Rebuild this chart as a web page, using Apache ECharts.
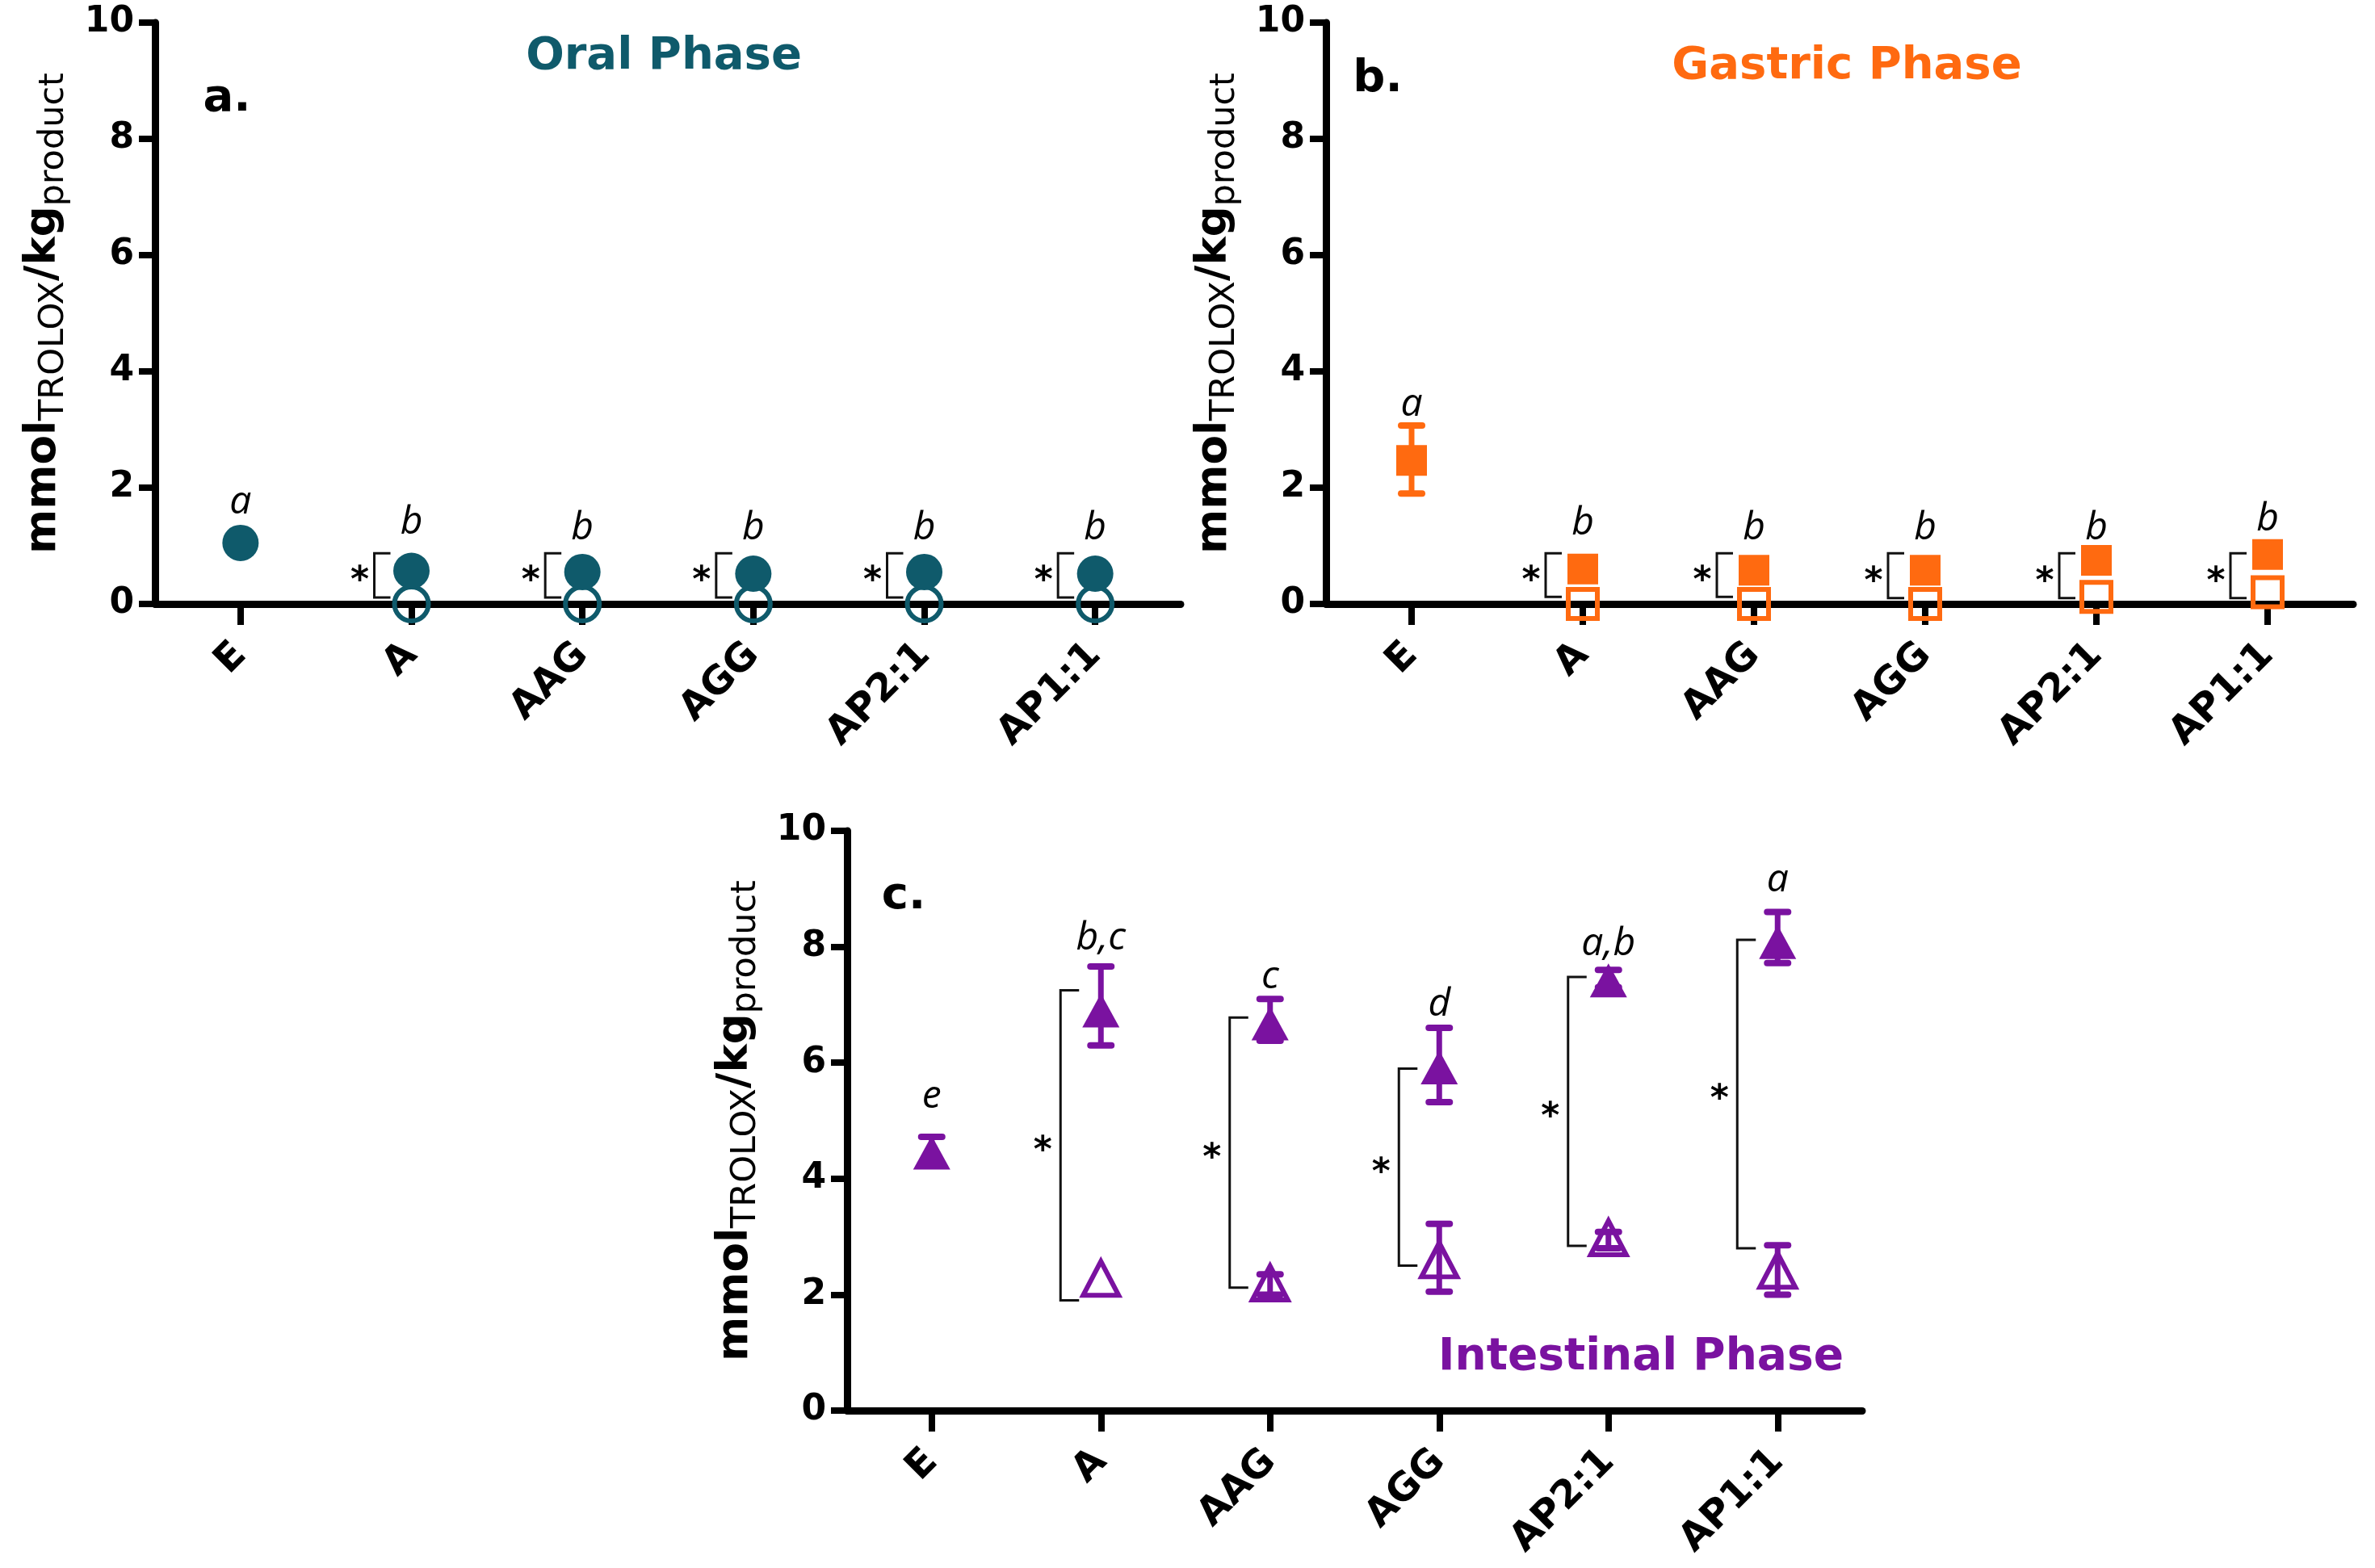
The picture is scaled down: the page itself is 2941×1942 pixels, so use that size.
<!DOCTYPE html>
<html>
<head>
<meta charset="utf-8">
<script src="https://cdn.jsdelivr.net/npm/echarts@6/dist/echarts.min.js"></script>
<style>
html,body{margin:0;padding:0;background:#fff;}
#c{width:2941px;height:1942px;}
</style>
</head>
<body>
<div id="c"></div>
<script>
// ---------- data ----------
const categories = ['E', 'A', 'AAG', 'AGG', 'AP2:1', 'AP1:1'];
const yMin = 0, yMax = 10, yStep = 2;

// Oral phase
const oralFilled = [1.05, 0.57, 0.55, 0.52, 0.55, 0.52];
const oralOpen = ['-', 0.0, 0.0, 0.0, 0.0, 0.0];
const oralLetters = ['a', 'b', 'b', 'b', 'b', 'b'];
const oralLetterY = [1.74, 1.40, 1.30, 1.30, 1.30, 1.30];
const oralBrackets = [[1, 0.87, 0.11], [2, 0.87, 0.11], [3, 0.87, 0.11], [4, 0.87, 0.11], [5, 0.87, 0.11]];

// Gastric phase
const gastricFilled = [2.47, 0.60, 0.58, 0.58, 0.75, 0.85];
const gastricOpen = ['-', 0.0, 0.0, 0.0, 0.12, 0.20];
const gastricFilledErr = [[0, 1.90, 3.07]];
const gastricLetters = ['a', 'b', 'b', 'b', 'b', 'b'];
const gastricLetterY = [3.42, 1.39, 1.30, 1.30, 1.30, 1.45];
const gastricBrackets = [[1, 0.87, 0.12], [2, 0.87, 0.12], [3, 0.87, 0.10], [4, 0.87, 0.10], [5, 0.87, 0.10]];

// Intestinal phase
const intFilled = [4.45, 6.90, 6.68, 5.92, 7.42, 8.08];
const intOpen = ['-', 2.28, 2.20, 2.60, 2.98, 2.42];
const intFilledErr = [[0, 4.25, 4.72], [1, 6.30, 7.66], [2, 6.38, 7.10], [3, 5.32, 6.60], [4, 7.30, 7.60], [5, 7.72, 8.60]];
const intOpenErr = [[2, 2.00, 2.35], [3, 2.05, 3.22], [4, 2.80, 3.08], [5, 2.00, 2.85]];
const intLetters = ['e', 'b,c', 'c', 'd', 'a,b', 'a'];
const intLetterY = [5.42, 8.15, 7.48, 7.00, 8.04, 9.15];
const intBrackets = [[1, 7.25, 1.90], [2, 6.78, 2.12], [3, 5.90, 2.50], [4, 7.48, 2.84], [5, 8.12, 2.80]];

// ---------- styles ----------
const TEAL = '#0f5a6b', ORANGE = '#ff6a10', PURPLE = '#7a12a0';
const FONT = 'DejaVu Sans';

function yAxis(gi) {
  return {
    gridIndex: gi, type: 'value', min: yMin, max: yMax, interval: yStep,
    splitLine: { show: false },
    axisLine: { show: true, lineStyle: { color: '#000', width: 9 } },
    axisTick: { show: true, length: 20, lineStyle: { color: '#000', width: 8 } },
    axisLabel: { fontFamily: FONT, fontWeight: 'bold', fontSize: 44, color: '#000', margin: 26 },
    name: '{m|mmol}{s|TROLOX}{m|/kg}{s|product}',
    nameLocation: 'middle', nameRotate: 90, nameGap: 104,
    nameTextStyle: {
      rich: {
        m: { fontFamily: FONT, fontWeight: 'bold', fontSize: 53, color: '#000', lineHeight: 60, verticalAlign: 'top' },
        s: { fontFamily: FONT, fontWeight: 'normal', fontSize: 43, color: '#000', lineHeight: 30, verticalAlign: 'bottom' }
      }
    }
  };
}
function xAxis(gi) {
  return {
    gridIndex: gi, type: 'category', data: categories, boundaryGap: true,
    axisLine: { show: true, lineStyle: { color: '#000', width: 9 } },
    axisTick: { show: true, alignWithLabel: true, interval: 0, length: 26, lineStyle: { color: '#000', width: 8 } },
    axisLabel: { interval: 0, rotate: 45, fontFamily: FONT, fontWeight: 'bold', fontSize: 48, color: '#000', margin: 56 },
    splitLine: { show: false }
  };
}

function errRender(color) {
  return function (params, api) {
    const i = api.value(0);
    const lo = api.coord([i, api.value(1)]);
    const hi = api.coord([i, api.value(2)]);
    const cw = 13;
    return {
      type: 'group',
      children: [
        { type: 'line', shape: { x1: lo[0], y1: lo[1], x2: hi[0], y2: hi[1] }, style: { stroke: color, lineWidth: 7 } },
        { type: 'line', shape: { x1: hi[0] - cw, y1: hi[1], x2: hi[0] + cw, y2: hi[1] }, style: { stroke: color, lineWidth: 8, lineCap: 'round' } },
        { type: 'line', shape: { x1: lo[0] - cw, y1: lo[1], x2: lo[0] + cw, y2: lo[1] }, style: { stroke: color, lineWidth: 8, lineCap: 'round' } }
      ]
    };
  };
}
function bracketRender(vx, armX, starX) {
  return function (params, api) {
    const i = api.value(0);
    const t = api.coord([i, api.value(1)]);
    const b = api.coord([i, api.value(2)]);
    const x = t[0];
    return {
      type: 'group',
      children: [
        { type: 'polyline', shape: { points: [[x + armX, t[1]], [x + vx, t[1]], [x + vx, b[1]], [x + armX, b[1]]] },
          style: { stroke: '#111', lineWidth: 3, fill: null } },
        { type: 'text', x: x + starX, y: (t[1] + b[1]) / 2 + 8,
          style: { text: '*', fontFamily: FONT, fontWeight: 'bold', fontSize: 44, fill: '#000', align: 'center', verticalAlign: 'middle' } }
      ]
    };
  };
}
function letterRender(letters) {
  return function (params, api) {
    const p = api.coord([api.value(0), api.value(1)]);
    return {
      type: 'text', x: p[0], y: p[1],
      style: { text: letters[params.dataIndex], fontFamily: 'Open Sans', fontStyle: 'italic', fontSize: 48, fill: '#000', align: 'center', verticalAlign: 'middle' }
    };
  };
}
function letterData(ys) { return ys.map((v, i) => [i, v]); }

function panelSeries(gi, sym, sizeF, sizeO, color, filled, open, letters, letterY, brackets, bx, filledErr, openErr) {
  const s = [];
  if (openErr) s.push({ type: 'custom', xAxisIndex: gi, yAxisIndex: gi, z: 2, renderItem: errRender(color), data: openErr });
  if (filledErr) s.push({ type: 'custom', xAxisIndex: gi, yAxisIndex: gi, z: 2, renderItem: errRender(color), data: filledErr });
  s.push({ type: 'scatter', xAxisIndex: gi, yAxisIndex: gi, z: 4, symbol: sym, symbolSize: sizeO, data: open,
    itemStyle: { color: 'rgba(255,255,255,0)', borderColor: color, borderWidth: 6, opacity: 1 } });
  s.push({ type: 'scatter', xAxisIndex: gi, yAxisIndex: gi, z: 5, symbol: sym, symbolSize: sizeF, data: filled,
    itemStyle: { color: color, opacity: 1 } });
  s.push({ type: 'custom', xAxisIndex: gi, yAxisIndex: gi, z: 3, renderItem: bracketRender(bx[0], bx[1], bx[2]), data: brackets });
  s.push({ type: 'custom', xAxisIndex: gi, yAxisIndex: gi, z: 6, renderItem: letterRender(letters), data: letterData(letterY) });
  return s;
}

const chart = echarts.init(document.getElementById('c'), null, { renderer: 'canvas' });
const option = {
  animation: false,
  backgroundColor: '#fff',
  grid: [
    { left: 192, top: 28, width: 1270, height: 720, containLabel: false, outerBoundsMode: 'none' },
    { left: 1642, top: 28, width: 1272, height: 720, containLabel: false, outerBoundsMode: 'none' },
    { left: 1049, top: 1029, width: 1257, height: 718, containLabel: false, outerBoundsMode: 'none' }
  ],
  xAxis: [xAxis(0), xAxis(1), xAxis(2)],
  yAxis: [yAxis(0), yAxis(1), yAxis(2)],
  graphic: [
    { type: 'text', x: 822, y: 70, style: { text: 'Oral Phase', fontFamily: FONT, fontWeight: 'bold', fontSize: 56, fill: TEAL, align: 'center', verticalAlign: 'middle' } },
    { type: 'text', x: 2287, y: 82, style: { text: 'Gastric Phase', fontFamily: FONT, fontWeight: 'bold', fontSize: 56, fill: ORANGE, align: 'center', verticalAlign: 'middle' } },
    { type: 'text', x: 2032, y: 1682, style: { text: 'Intestinal Phase', fontFamily: FONT, fontWeight: 'bold', fontSize: 55, fill: PURPLE, align: 'center', verticalAlign: 'middle' } },
    { type: 'text', x: 281, y: 122, style: { text: 'a.', fontFamily: FONT, fontWeight: 'bold', fontSize: 56, fill: '#000', align: 'center', verticalAlign: 'middle' } },
    { type: 'text', x: 1706, y: 98, style: { text: 'b.', fontFamily: FONT, fontWeight: 'bold', fontSize: 56, fill: '#000', align: 'center', verticalAlign: 'middle' } },
    { type: 'text', x: 1119, y: 1110, style: { text: 'c.', fontFamily: FONT, fontWeight: 'bold', fontSize: 56, fill: '#000', align: 'center', verticalAlign: 'middle' } }
  ],
  series: [].concat(
    panelSeries(0, 'circle', 45, 42, TEAL, oralFilled, oralOpen, oralLetters, oralLetterY, oralBrackets, [-46, -26, -64], null, null),
    panelSeries(1, 'rect', 38, 36, ORANGE, gastricFilled, gastricOpen, gastricLetters, gastricLetterY, gastricBrackets, [-46, -26, -64], gastricFilledErr, null),
    panelSeries(2, 'triangle', [46, 42], [44, 42], PURPLE, intFilled, intOpen, intLetters, intLetterY, intBrackets, [-50, -27, -72], intFilledErr, intOpenErr)
  )
};
chart.setOption(option);
</script>
</body>
</html>
